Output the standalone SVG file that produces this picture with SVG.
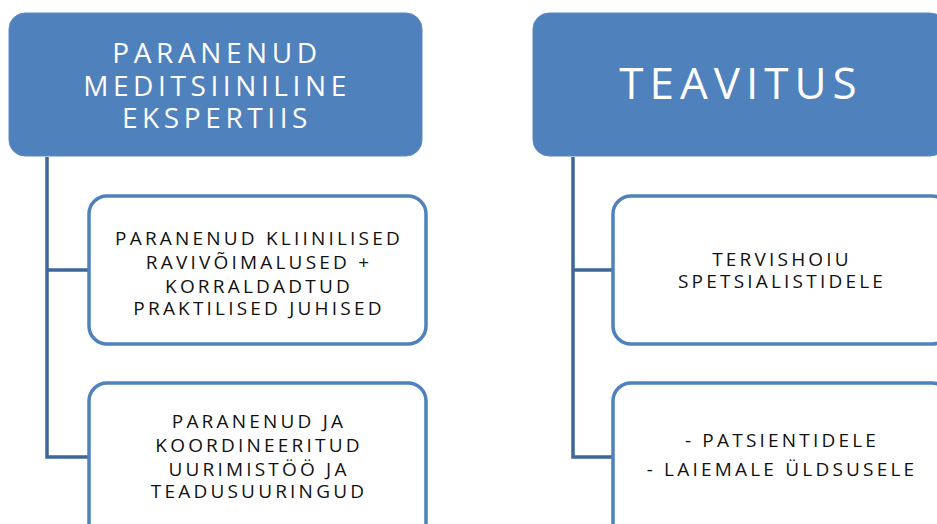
<svg xmlns="http://www.w3.org/2000/svg" width="937" height="524" viewBox="0 0 937 524">
<style>
.head{fill:#4F81BD;stroke:#5A8AC4;stroke-width:1}
.child{fill:#FFFFFF;stroke:#4F81BD;stroke-width:3.5}
.conn{fill:none;stroke:#3D679B;stroke-width:3.5}
.ht{font-family:"Open Sans","Liberation Sans",sans-serif;fill:#FFFFFF;text-anchor:middle}
.ct{font-family:"Open Sans","Liberation Sans",sans-serif;fill:#111111;text-anchor:middle;font-size:19px;letter-spacing:3.2px}
</style>
<rect width="937" height="524" fill="#FFFFFF"/>
<g id="connectors">
<path class="conn" d="M47 157 V457 H89 M47 270 H89"/>
<path class="conn" d="M573 157 V457 H613 M573 270 H613"/>
</g>
<g id="n1">
<rect class="head" x="9" y="13" width="413" height="143" rx="16"/>
<text class="ht" font-size="28" letter-spacing="4.6"><tspan x="217" y="63">PARANENUD</tspan><tspan x="217" y="96">MEDITSIINILINE</tspan><tspan x="217" y="128">EKSPERTIIS</tspan></text>
</g>
<g id="n2">
<rect class="head" x="533" y="13" width="413" height="143" rx="16"/>
<text class="ht" font-size="44" letter-spacing="6" x="741" y="99">TEAVITUS</text>
</g>
<g id="n3">
<rect class="child" x="89" y="196" width="337" height="148" rx="18"/>
<text class="ct"><tspan x="259" y="245">PARANENUD KLIINILISED</tspan><tspan x="259" y="269">RAVIVÕIMALUSED +</tspan><tspan x="259" y="293">KORRALDADTUD</tspan><tspan x="259" y="315">PRAKTILISED  JUHISED</tspan></text>
</g>
<g id="n4">
<rect class="child" x="89" y="383" width="337" height="160" rx="18"/>
<text class="ct"><tspan x="259" y="428">PARANENUD JA</tspan><tspan x="259" y="452">KOORDINEERITUD</tspan><tspan x="259" y="476">UURIMISTÖÖ JA</tspan><tspan x="259" y="498">TEADUSUURINGUD</tspan></text>
</g>
<g id="n5">
<rect class="child" x="613" y="196" width="337" height="148" rx="18"/>
<text class="ct"><tspan x="782" y="266">TERVISHOIU</tspan><tspan x="782" y="288">SPETSIALISTIDELE</tspan></text>
</g>
<g id="n6">
<rect class="child" x="613" y="383" width="337" height="160" rx="18"/>
<text class="ct"><tspan x="782" y="447">- PATSIENTIDELE</tspan><tspan x="782" y="476">- LAIEMALE ÜLDSUSELE</tspan></text>
</g>
</svg>
